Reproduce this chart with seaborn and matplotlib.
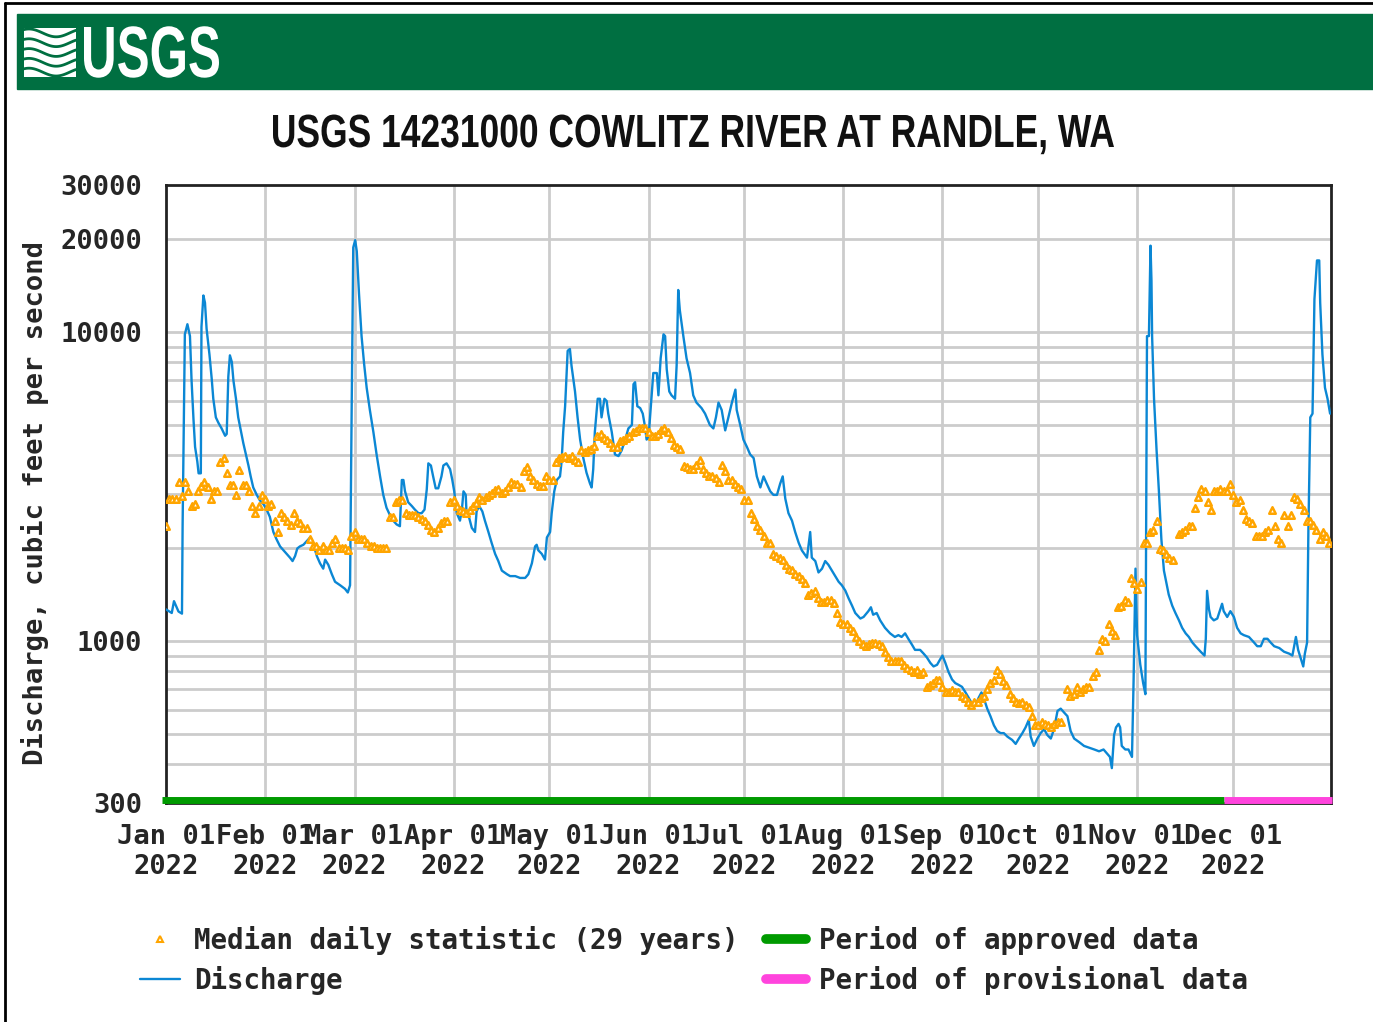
import numpy as np
import pandas as pd
import matplotlib
matplotlib.use("Agg")
import matplotlib.pyplot as plt
import matplotlib.dates as mdates
import matplotlib.transforms as mtransforms
from matplotlib.lines import Line2D
from matplotlib.patches import Rectangle, PathPatch
from matplotlib.textpath import TextPath
from matplotlib.font_manager import FontProperties
import seaborn as sns

# ---- data (day = days since 2022-01-01) ----
q_day = [0.0, 1.8, 2.5, 3.9, 5.0, 5.2, 5.9, 6.7, 7.5, 8.0, 8.6, 9.1, 9.8, 10.2, 10.9, 11.1, 11.7, 12.2, 12.7,
         13.6, 14.3, 14.8, 15.6, 16.4, 17.4, 18.5, 19.0, 19.5, 20.0, 20.6, 21.1, 21.9, 22.6, 23.4, 24.2, 25.0,
         25.8, 26.5, 27.3, 28.4, 29.4, 30.5, 31.5, 32.5, 33.6, 34.6, 35.7, 37.2, 38.8, 39.6, 40.4, 41.1, 41.9,
         43.0, 44.0, 45.1, 45.6, 46.3, 47.2, 48.2, 49.2, 49.8, 50.8, 51.9, 52.9, 54.5, 56.0, 56.9, 57.6, 58.1,
         58.6, 59.2, 59.7, 60.4, 61.2, 62.0, 62.8, 63.8, 64.9, 65.9, 67.0, 68.0, 69.0, 70.1, 71.1, 72.2, 73.2,
         73.8, 74.3, 74.8, 75.8, 76.9, 77.9, 79.0, 80.0, 80.9, 81.6, 82.1, 82.9, 83.6, 84.4, 85.2, 86.2, 86.8,
         87.8, 88.9, 89.6, 90.2, 91.0, 92.0, 92.6, 93.1, 93.8, 94.1, 94.8, 95.7, 96.7, 97.2, 98.0, 99.0, 99.8,
         100.9, 101.9, 103.0, 104.0, 105.1, 106.7, 107.7, 109.3, 110.8, 112.4, 113.4, 114.5, 115.5, 116.0,
         116.5, 117.6, 118.6, 119.2, 120.2, 120.7, 121.5, 122.3, 123.3, 123.8, 124.3, 124.9, 125.7, 126.4,
         126.9, 128.0, 128.8, 129.6, 130.6, 131.6, 132.7, 133.2, 133.7, 134.2, 135.1, 135.8, 136.3, 137.2,
         137.9, 138.4, 139.5, 140.5, 141.6, 142.6, 143.7, 144.7, 145.8, 146.3, 146.8, 147.5, 148.4, 149.2,
         149.9, 150.4, 151.0, 151.7, 152.5, 153.6, 154.1, 154.8, 155.7, 156.2, 156.7, 157.5, 158.2, 159.3,
         159.8, 160.3, 160.8, 161.9, 162.9, 164.0, 165.0, 166.0, 167.6, 168.7, 170.2, 171.3, 172.1, 172.9,
         173.9, 175.0, 176.0, 177.1, 178.2, 178.6, 179.7, 180.7, 181.8, 182.8, 183.9, 184.9, 186.0, 187.0,
         188.0, 189.1, 190.1, 191.2, 192.2, 193.0, 193.8, 194.8, 195.9, 196.9, 198.0, 199.0, 200.6, 201.6,
         202.1, 203.2, 204.2, 205.3, 206.3, 207.3, 208.4, 209.4, 210.5, 211.5, 212.6, 213.6, 214.7, 215.7,
         217.3, 218.3, 219.8, 220.6, 221.3, 222.4, 223.5, 225.0, 226.6, 228.1, 229.2, 230.2, 231.3, 232.3,
         233.4, 234.4, 236.0, 237.1, 238.1, 239.2, 240.2, 241.3, 242.3, 243.0, 243.9, 244.9, 246.0, 247.0,
         248.1, 249.1, 250.2, 251.2, 252.2, 253.3, 254.3, 255.2, 255.9, 257.0, 258.0, 259.1, 260.1, 261.2,
         262.2, 263.3, 264.8, 265.9, 266.9, 268.0, 269.0, 270.0, 270.6, 271.6, 272.7, 273.7, 274.8, 275.8,
         276.9, 277.9, 279.0, 280.0, 281.1, 282.1, 283.1, 284.2, 285.8, 287.3, 288.9, 290.5, 292.0, 293.4,
         294.4, 295.4, 296.0, 296.7, 297.3, 298.1, 298.6, 299.1, 300.2, 301.2, 302.3, 302.8, 303.4, 303.9,
         304.9, 305.8, 306.5, 307.0, 307.6, 308.1, 308.4, 308.6, 309.2, 310.0, 310.7, 311.5, 312.3, 313.1,
         313.8, 314.9, 315.9, 317.0, 318.0, 319.1, 320.1, 321.2, 322.2, 323.8, 325.0, 325.4, 325.8, 326.4,
         326.9, 327.9, 329.0, 330.5, 331.0, 332.1, 333.1, 334.2, 335.2, 336.3, 337.3, 338.9, 340.5, 341.5,
         342.6, 343.6, 344.7, 345.7, 346.8, 348.4, 349.9, 351.5, 352.5, 353.6, 354.3, 355.2, 355.9, 356.4,
         357.1, 357.5, 358.1, 358.8, 359.4, 360.2, 360.9, 361.2, 361.9, 362.7, 363.5, 364.3]
q_cfs = [1270, 1236, 1350, 1250, 1230, 2390, 9860, 10630, 9730, 6990, 5240, 4260, 3820, 3500, 3500, 10420, 13170,
         12470, 10280, 8480, 7090, 6100, 5310, 5100, 4890, 4630, 4690, 7190, 8430, 8020, 6990, 6100, 5310, 4820,
         4380, 4030, 3710, 3420, 3150, 2980, 2860, 2780, 2670, 2530, 2260, 2140, 2030, 1950, 1867, 1820, 1890,
         2000, 2030, 2055, 2110, 2170, 2140, 2030, 1890, 1790, 1720, 1840, 1770, 1650, 1560, 1520, 1480, 1440,
         1520, 5610, 18830, 19890, 18320, 13350, 9730, 7910, 6620, 5610, 4760, 4030, 3420, 2980, 2710, 2560,
         2460, 2390, 2360, 3330, 3330, 3060, 2820, 2745, 2670, 2600, 2600, 2670, 3100, 3770, 3710, 3420, 3130,
         3130, 3420, 3710, 3770, 3610, 3330, 3060, 2600, 2460, 2670, 3060, 2980, 2530, 2530, 2330, 2260, 2635,
         2745, 2635, 2460, 2260, 2085, 1920, 1820, 1695, 1650, 1627, 1627, 1605, 1605, 1650, 1790, 2030, 2055,
         1973, 1920, 1840, 2170, 2260, 2600, 3060, 3330, 3420, 3820, 4760, 5770, 8720, 8840, 7810, 6440, 5310,
         4500, 3920, 3515, 3240, 3150, 3610, 4760, 6100, 6100, 5310, 6100, 6000, 5460, 4760, 4030, 3980, 4150,
         4500, 4890, 5020, 6800, 6900, 5770, 5690, 5460, 4960, 4500, 4560, 5690, 7390, 7390, 6260, 8250, 9860,
         9730, 7600, 6440, 6260, 6100, 7810, 13720, 11800, 9730, 8250, 7390, 6260, 5930, 5690, 5460, 5020, 4890,
         5310, 5930, 5610, 4820, 5310, 5930, 6530, 5610, 5020, 4500, 4260, 4030, 3920, 3420, 3150, 3420, 3240,
         3060, 2980, 2980, 3240, 3420, 2900, 2600, 2460, 2260, 2085, 1970, 1867, 2260, 1867, 1820, 1672, 1720,
         1820, 1770, 1695, 1627, 1560, 1520, 1460, 1380, 1305, 1236, 1186, 1200, 1253, 1290, 1220, 1236, 1170,
         1107, 1062, 1034, 1048, 1034, 1062, 1020, 978, 939, 939, 913, 888, 852, 830, 840, 876, 900, 852, 796,
         753, 733, 723, 713, 684, 657, 630, 621, 657, 684, 657, 606, 573, 535, 513, 505, 505, 492, 480, 466, 485,
         505, 527, 557, 492, 459, 485, 505, 520, 498, 485, 520, 596, 606, 588, 573, 513, 485, 472, 459, 453, 447,
         441, 447, 435, 423, 389, 498, 527, 541, 527, 459, 447, 447, 423, 743, 1720, 1048, 841, 733, 675, 9730,
         9730, 19090, 14700, 9730, 6100, 4150, 3100, 2140, 1695, 1540, 1418, 1305, 1236, 1170, 1107, 1062, 1034,
         992, 965, 926, 900, 1020, 1458, 1270, 1200, 1170, 1186, 1324, 1253, 1200, 1253, 1200, 1107, 1062, 1048,
         1034, 992, 965, 965, 1020, 1020, 992, 965, 952, 926, 913, 900, 1034, 939, 876, 830, 913, 992, 2260,
         5310, 5460, 12810, 17100, 17100, 12470, 8480, 6620, 6100, 5460]

med_day = list(range(0, 281)) + list(range(282, 316)) + list(range(317, 365))
med_cfs = [2370, 2900, 2900, 2900, 3280, 2950, 3280, 3060, 2740, 2780, 3060, 3180, 3280, 3150, 2900, 3060, 3060,
           3820, 3920, 3500, 3200, 3200, 2980, 3600, 3200, 3200, 3060, 2750, 2600, 2750, 2980, 2900, 2750, 2780,
           2460, 2260, 2600, 2530, 2460, 2390, 2600, 2460, 2420, 2330, 2330, 2140, 2030, 2030, 1975, 2030, 1975,
           1975, 2085, 2140, 2000, 2000, 2000, 1975, 2200, 2265, 2140, 2140, 2140, 2085, 2030, 2030, 2000, 2000,
           2000, 2000, 2530, 2530, 2820, 2860, 2860, 2600, 2560, 2560, 2560, 2525, 2490, 2460, 2390, 2300, 2265,
           2330, 2410, 2460, 2460, 2820, 2860, 2745, 2670, 2640, 2600, 2670, 2745, 2800, 2940, 2860, 2940, 2980,
           3020, 3080, 3110, 3020, 3065, 3150, 3280, 3235, 3235, 3150, 3565, 3665, 3420, 3330, 3235, 3190, 3190,
           3420, 3330, 3330, 3820, 3925, 3950, 3980, 3925, 3980, 3870, 3820, 4150, 4090, 4150, 4200, 4300, 4630,
           4690, 4560, 4500, 4380, 4260, 4260, 4440, 4500, 4560, 4630, 4760, 4800, 4910, 4890, 4890, 4760, 4630,
           4630, 4690, 4820, 4890, 4760, 4560, 4320, 4250, 4200, 3700, 3665, 3615, 3615, 3715, 3870, 3615, 3500,
           3420, 3420, 3375, 3280, 3715, 3565, 3330, 3330, 3235, 3150, 3110, 2860, 2860, 2600, 2490, 2360, 2300,
           2200, 2085, 2075, 1920, 1895, 1867, 1840, 1767, 1720, 1697, 1650, 1627, 1592, 1540, 1418, 1438, 1458,
           1380, 1342, 1342, 1360, 1360, 1335, 1236, 1155, 1138, 1138, 1107, 1077, 1034, 1005, 978, 965, 978,
           992, 992, 978, 965, 926, 888, 864, 864, 864, 864, 841, 818, 807, 796, 807, 785, 796, 713, 723, 733,
           753, 753, 713, 684, 684, 694, 684, 684, 665, 656, 639, 621, 639, 639, 656, 665, 703, 733, 753, 807,
           785, 743, 723, 675, 656, 639, 630, 639, 621, 612, 572, 535, 535, 549, 541, 535, 527, 541, 549, 549,
           703, 665, 675, 713, 684, 703, 713, 713, 774, 796, 939, 1019, 1005, 1138, 1077, 1048, 1290, 1306, 1360,
           1342, 1605, 1540, 1478, 1562, 2085, 2075, 2265, 2300, 2460, 1995, 1975, 1920, 1867, 1840,
           2230, 2265, 2300, 2360, 2360, 2710, 2940, 3110, 3065, 2820, 2670, 3065, 3065, 3110, 3065, 3065, 3235,
           2980, 2820, 2860, 2670, 2490, 2460, 2420, 2200, 2200, 2200, 2265, 2300, 2670, 2360, 2140, 2085, 2560,
           2360, 2560, 2940, 2900, 2780, 2670, 2460, 2460, 2390, 2300, 2140, 2265, 2200, 2085]

ytick_vals = [300, 1000, 10000, 20000, 30000]
grid_vals = [400, 500, 600, 700, 800, 900, 1000, 2000, 3000, 4000, 5000, 6000, 7000, 8000, 9000, 10000, 20000]
month_labels = ["Jan 01\n2022", "Feb 01\n2022", "Mar 01\n2022", "Apr 01\n2022", "May 01\n2022", "Jun 01\n2022",
                "Jul 01\n2022", "Aug 01\n2022", "Sep 01\n2022", "Oct 01\n2022", "Nov 01\n2022", "Dec 01\n2022"]
approved_end = "2022-11-28"

base = pd.Timestamp("2022-01-01")
q = pd.DataFrame({"date": base + pd.to_timedelta(q_day, unit="D"), "cfs": q_cfs})
med = pd.DataFrame({"date": base + pd.to_timedelta(med_day, unit="D"), "cfs": med_cfs})

# ---- style ----
sns.set_style("white")
mono = ["DejaVu Sans Mono"]
plt.rcParams["font.family"] = mono
plt.rcParams["font.weight"] = "bold"

W, H = 1373, 1022
fig = plt.figure(figsize=(W / 100, H / 100), dpi=100)
ax = fig.add_axes([166 / W, 1 - 803 / H, (1331 - 166) / W, (803 - 185) / H])

blue = "#0B87D4"
orange = "#FFA500"
green = "#009A00"
magenta = "#FF44DD"


def squeezed_text(s, left, right, top, bottom, color, weight):
    # text drawn as a path, stretched into a pixel box (condensed header fonts)
    fp = FontProperties(family=["Liberation Sans", "DejaVu Sans"], weight=weight)
    tp = TextPath((0, 0), s, size=100, prop=fp)
    ext = tp.get_extents()
    cap = TextPath((0, 0), "H", size=100, prop=fp).get_extents().height
    sx = (right - left) / ext.width
    sy = (bottom - top) / cap
    tr = mtransforms.Affine2D().translate(-ext.x0, 0).scale(sx, sy).translate(left, H - bottom)
    fig.add_artist(PathPatch(tp, transform=tr, facecolor=color, edgecolor="none", zorder=5))


# grid
month_starts = pd.date_range("2022-01-01", "2022-12-01", freq="MS")
for m in month_starts[1:]:
    ax.axvline(m, color="#cccccc", lw=2, zorder=0)
for g in grid_vals:
    ax.axhline(g, color="#cccccc", lw=2, zorder=0)

sns.lineplot(data=q, x="date", y="cfs", color=blue, lw=1.7, ax=ax, zorder=3)
sns.scatterplot(data=med, x="date", y="cfs", marker="^", s=22, color=orange,
                edgecolor=orange, linewidth=1.8, ax=ax, zorder=4)
ax.collections[-1].set_facecolor("white")

ax.set_yscale("log")
ax.set_ylim(300, 30000)
ax.set_xlim(base, pd.Timestamp("2022-12-31 14:00"))
ax.yaxis.set_minor_locator(matplotlib.ticker.NullLocator())
ax.set_yticks(ytick_vals)
ax.set_yticklabels([str(v) for v in ytick_vals], fontsize=19.5, fontweight="bold")
ax.set_xticks(month_starts)
ax.set_xticklabels(month_labels, fontsize=19.5, fontweight="bold", linespacing=1.22)
ax.tick_params(axis="both", length=0)
ax.tick_params(axis="x", pad=15)
ax.tick_params(axis="y", pad=17)
ax.set_xlabel("")
ax.set_ylabel("")
for s in ax.spines.values():
    s.set_color("#222222")
    s.set_linewidth(2)

# approved / provisional bar along the bottom
trans = mtransforms.blended_transform_factory(ax.transData, ax.transAxes)
x0 = mdates.date2num(base - pd.Timedelta(days=1.3))
x1 = mdates.date2num(pd.Timestamp(approved_end))
x2 = mdates.date2num(pd.Timestamp("2022-12-31 20:00"))
ax.plot([x0, x1], [0.005, 0.005], color=green, lw=5, transform=trans, clip_on=False,
        solid_capstyle="butt", zorder=6)
ax.plot([x1, x2], [0.005, 0.005], color=magenta, lw=5, transform=trans, clip_on=False,
        solid_capstyle="butt", zorder=6)

fig.text(35 / W, 1 - 503 / H, "Discharge, cubic feet per second", rotation=90,
         ha="center", va="center", fontsize=19.5, fontweight="bold")

# header
fig.patches.append(Rectangle((17 / W, 1 - 89 / H), (W - 17) / W, 75 / H,
                             transform=fig.transFigure, color="#006F41", zorder=0))
squeezed_text("USGS", 84, 219, 27, 77, "white", "bold")
icon = fig.add_axes([24 / W, 1 - 77 / H, 52 / W, 49 / H], zorder=5)
icon.set_axis_off()
icon.add_patch(Rectangle((0, 0), 1, 1, color="white"))
xs = np.linspace(0, 1, 40)
for k in range(5):
    icon.plot(xs, 0.1 + k * 0.2 + 0.08 * np.sin(xs * 6 + 1), color="#006F41", lw=2)
icon.set_xlim(0, 1)
icon.set_ylim(0, 1)

squeezed_text("USGS 14231000 COWLITZ RIVER AT RANDLE, WA", 273, 1114, 115, 147, "#111111", "bold")

# page border
fig.add_artist(Line2D([5 / W, 5 / W], [0, 1 - 3 / H], color="black", lw=2, transform=fig.transFigure))
fig.add_artist(Line2D([5 / W, 1], [1 - 3 / H, 1 - 3 / H], color="black", lw=2, transform=fig.transFigure))

# legend
handles = [
    Line2D([], [], ls="", marker="^", ms=4.5, color=orange, mfc="white", mew=1.5),
    Line2D([], [], color=blue, lw=1.7),
    Line2D([], [], color=green, lw=7),
    Line2D([], [], color=magenta, lw=7),
]
labels = ["Median daily statistic (29 years)", "Discharge",
          "Period of approved data", "Period of provisional data"]
fig.legend(handles, labels, ncol=2, loc="upper left", bbox_to_anchor=(140 / W, 1 - 926 / H),
           frameon=False, borderpad=0, borderaxespad=0, handlelength=1.45, handletextpad=0.5,
           columnspacing=1.0, labelspacing=0.4, prop={"family": mono, "weight": "bold", "size": 19.8})

fig.savefig("out.png", dpi=100, facecolor="white")
